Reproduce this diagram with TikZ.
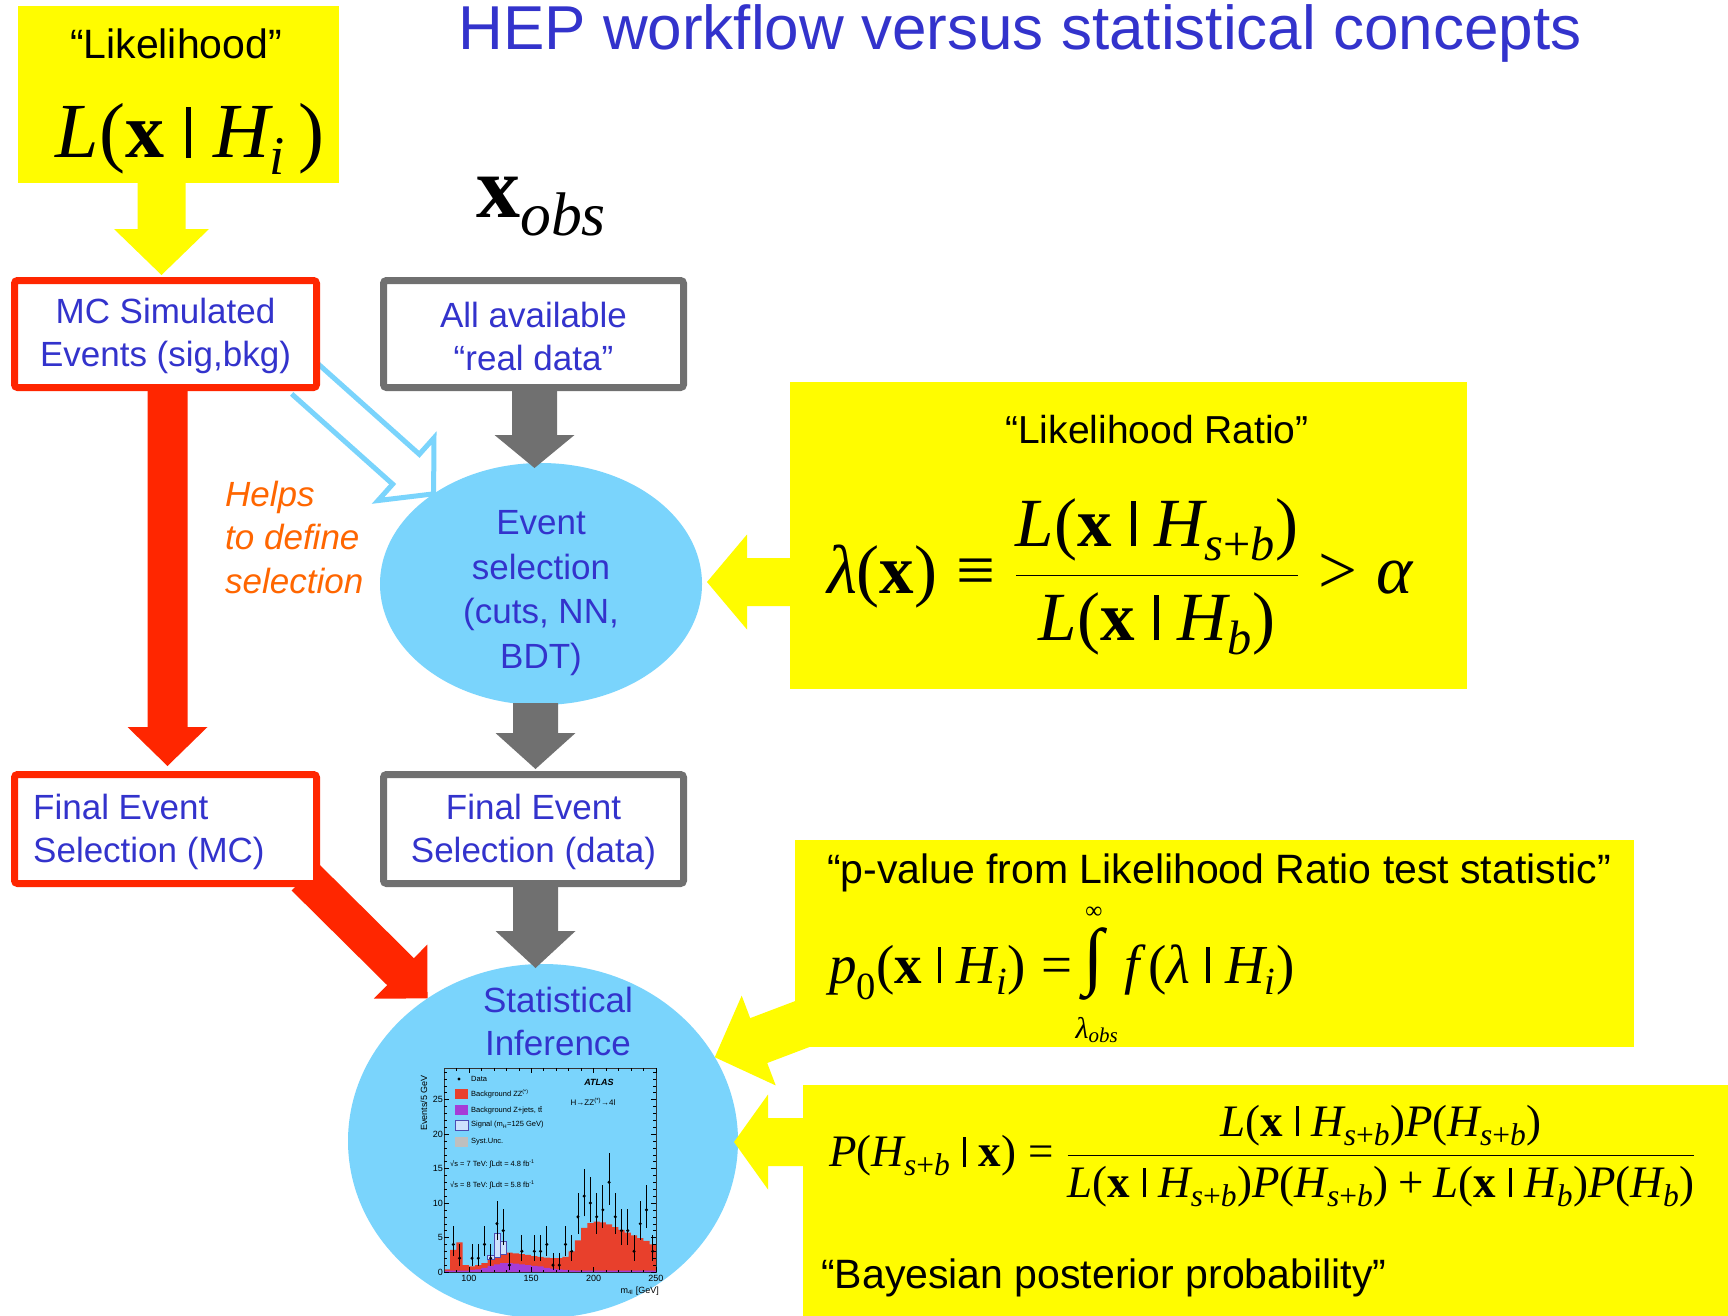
\RequirePackage{fix-cm}
\documentclass[tikz,border=0pt]{standalone}
\usepackage{amsmath}
\usepackage[no-math]{fontspec}
\newfontfamily\hv{Liberation Sans}
\newfontfamily\tms{Liberation Serif}
\usetikzlibrary{calc,shapes.geometric}
\pgfdeclarelayer{background}
\pgfsetlayers{background,main}
\definecolor{txtblue}{RGB}{51,51,204}
\definecolor{boxred}{RGB}{255,38,0}
\definecolor{boxgray}{RGB}{112,112,112}
\definecolor{hiyellow}{RGB}{255,252,0}
\definecolor{skyblue}{RGB}{122,212,252}
\definecolor{helporange}{RGB}{255,102,0}
\definecolor{histred}{RGB}{232,64,44}
\definecolor{histpurple}{RGB}{165,60,215}
\definecolor{histsig}{RGB}{205,225,252}
% Times-like letters inside formulas
\makeatletter
\newcommand\fsz{\dimexpr\f@size pt\relax}
\makeatother
\newcommand\mi[1]{\text{\tms\itshape #1}}
\newcommand\mb[1]{\text{\tms\bfseries #1}}
\newcommand\mr[1]{\text{\tms #1}}
\newcommand\sbx[1]{_{\raisebox{-0.06\fsz}{$\scriptstyle #1$}}}
\newcommand\given{\mspace{5mu}\rule{0.07\fsz}{0.66\fsz}\mspace{5mu}}
\newcommand\eqrel[1]{\mathrel{\mr{#1}}}
\newcommand\plus{\mathbin{\mr{+}}}
\newcommand\lp{\mr{(}}
\newcommand\rp{\mr{)}}
\newcommand\xb{\mb{x}}
\newcommand\Hsb{\mi{H}\sbx{\mi{s}\mr{+}\mi{b}}}
\newcommand\Hb{\mi{H}\sbx{\mi{b}}}
\newcommand\Hi{\mi{H}\sbx{\mi{i}}}
\tikzset{
  ybox/.style={fill=hiyellow, inner sep=0, outer sep=0},
  flowbox/.style={draw, line width=7pt, fill=white, rounded corners=3pt, inner sep=0},
  redbox/.style={flowbox, draw=boxred},
  graybox/.style={flowbox, draw=boxgray},
  blob/.style={ellipse, fill=skyblue, inner sep=0, outer sep=0},
  boxlabel/.style={font=\hv\fontsize{35}{43}\selectfont, text=txtblue, align=center, inner sep=0},
  quotetext/.style={font=\hv\fontsize{41}{48}\selectfont, inner sep=0},
  formula/.style={inner sep=0},
  legendtext/.style={font=\hv\fontsize{7.5}{9}\selectfont, inner sep=0, anchor=west},
  ticklabel/.style={font=\hv\fontsize{9}{10}\selectfont, inner sep=0},
}
% filled block arrow: style, start, tip, half shaft width, half head width, head length
\newcommand\flowarrow[6]{%
  \coordinate (fa-base) at ($(#3)!#6!(#2)$);
  \fill[#1] ($(#2)!#4!90:(#3)$) -- ($(fa-base)!#4!-90:(#2)$) -- ($(fa-base)!#5!-90:(#2)$) -- (#3)
    -- ($(fa-base)!#5!90:(#2)$) -- ($(fa-base)!#4!90:(#2)$) -- ($(#2)!#4!-90:(#3)$) -- cycle;}
% outlined block arrow, open at its start
\newcommand\hollowarrow[6]{%
  \coordinate (fa-base) at ($(#3)!#6!(#2)$);
  \draw[#1] ($(#2)!#4!90:(#3)$) -- ($(fa-base)!#4!-90:(#2)$) -- ($(fa-base)!#5!-90:(#2)$) -- (#3)
    -- ($(fa-base)!#5!90:(#2)$) -- ($(fa-base)!#4!90:(#2)$) -- ($(#2)!#4!-90:(#3)$);}
\begin{document}
\begin{tikzpicture}[x=1pt,y=-1pt]
\useasboundingbox (0,0) rectangle (1728,1316);
\begin{pgfonlayer}{background}
  \fill[white] (0,0) rectangle (1728,1316);
\end{pgfonlayer}

% title
\node[font=\hv\fontsize{62}{70}\selectfont, text=txtblue, anchor=base, inner sep=0] (title) at (1020,50)
  {HEP workflow versus statistical concepts};

% likelihood
\node[ybox, minimum width=321pt, minimum height=177pt] (lik) at (178.5,94.5) {};
\node[quotetext, anchor=base] (likq) at (176,59) {“Likelihood”};
\node[formula, anchor=base, font=\fontsize{78}{90}\selectfont] (likf) at (190,158)
  {$\mi{L}\lp\xb\given\Hi\,\rp$};

% observed data symbol
\node[formula, anchor=base west, font=\fontsize{88}{90}\selectfont] (xobs) at (476,217) {$\xb\sbx{\mi{obs}}$};

% workflow boxes
\node[redbox, minimum width=302pt, minimum height=107pt] (mc) at (165.5,334) {};
\node[graybox, minimum width=300pt, minimum height=107pt] (ad) at (533.5,334) {};
\node[redbox, minimum width=302pt, minimum height=109pt] (fmc) at (165.5,829) {};
\node[graybox, minimum width=300pt, minimum height=109pt] (fd) at (533.5,829) {};
\node[boxlabel] (mct) at (165.5,336) {MC Simulated\\Events (sig,bkg)};
\node[boxlabel] (adt) at (533.5,336) {All available\\“real data”};
\node[boxlabel, align=left, anchor=west] (fmct) at (33,832) {Final Event\\Selection (MC)};
\node[boxlabel] (fdt) at (533.5,832) {Final Event\\Selection (data)};

% selection and inference
\node[blob, minimum width=322pt, minimum height=242pt] (es) at (541,584) {};
\node[blob, minimum width=390pt, minimum height=354pt] (si) at (543,1141) {};
\node[boxlabel, font=\hv\fontsize{35}{44.7}\selectfont] (est) at (541,593) {Event\\selection\\(cuts, NN,\\BDT)};
\node[boxlabel] (sit) at (558,1021) {Statistical\\Inference};
\node[boxlabel, align=left, anchor=west, text=helporange, font=\hv\itshape\fontsize{35}{43.5}\selectfont] (help) at (225,537)
  {Helps\\to define\\selection};

% concept boxes
\node[ybox, minimum width=677pt, minimum height=307pt] (lr) at (1128.5,535.5) {};
\node[ybox, minimum width=839pt, minimum height=207pt] (pv) at (1214.5,943.5) {};
\node[ybox, minimum width=925pt, minimum height=231pt] (bp) at (1265.5,1200.5) {};
\node[quotetext, anchor=base, font=\hv\fontsize{39}{46}\selectfont] (lrq) at (1157,443) {“Likelihood Ratio”};
\node[formula, font=\fontsize{69}{80}\selectfont] (lrf) at (1120,577)
  {$\displaystyle \mi{λ}\lp\xb\rp\eqrel{≡}\frac{\mi{L}\lp\xb\given\Hsb\rp}{\mi{L}\lp\xb\given\Hb\rp}\eqrel{>}\mi{α}$};
\node[quotetext, anchor=base] (pvq) at (1219,883) {“p-value from Likelihood Ratio test statistic”};
\node[formula, anchor=base west, font=\fontsize{55}{60}\selectfont] (pvf) at (829,983)
  {$\mi{p}\sbx{\mr{0}}\lp\xb\given\Hi\rp\eqrel{=}$};
\node[formula, font=\tms\fontsize{74}{76}\selectfont] (pvint) at (1094,964) {∫};
\node[formula, font=\tms\fontsize{24}{26}\selectfont] (pvinf) at (1094,913) {∞};
\node[formula, font=\fontsize{30}{32}\selectfont] (pvlo) at (1097,1030) {$\mi{λ}_{\mi{obs}}$};
\node[formula, anchor=base west, font=\fontsize{55}{60}\selectfont] (pvg) at (1124,983)
  {$\mi{f}\,\lp\mi{λ}\given\Hi\rp$};
\node[formula, anchor=west, font=\fontsize{45}{52}\selectfont] (bpf) at (829,1156)
  {$\displaystyle \mi{P}\lp\Hsb\given\xb\rp\eqrel{=}\frac{\mi{L}\lp\xb\given\Hsb\rp\mi{P}\lp\Hsb\rp}{\mi{L}\lp\xb\given\Hsb\rp\mi{P}\lp\Hsb\rp\plus\mi{L}\lp\xb\given\Hb\rp\mi{P}\lp\Hb\rp}$};
\node[quotetext, anchor=base west] (bpq) at (821,1288) {“Bayesian posterior probability”};

% m4l spectrum inside the inference blob
\begin{scope}[shift={(444,1272)}, x=1.246pt, y=6.9pt]
  \fill[histred] (0,0) \foreach \a/\h in {80/0.4,85/3.2,90/4.3,95/1.0,100/0.8,105/1.0,110/1.3,115/1.8,120/2.2,125/2.6,
     130/2.8,135/2.7,140/2.6,145/2.5,150/2.3,155/2.2,160/2.1,165/2.0,170/2.0,175/2.2,180/3.0,185/4.6,190/6.4,
     195/7.1,200/7.3,205/7.2,210/6.9,215/6.5,220/6.1,225/5.7,230/5.3,235/4.9,240/4.5,245/4.0}
     { -- ({\a-80},\h) -- ({\a-75},\h) } -- (170,0) -- cycle;
  \fill[histpurple] (0,0) \foreach \a/\h in {80/0.15,85/0.2,90/0.2,95/0.2,100/0.3,105/0.4,110/0.6,115/0.9,120/1.1,
     125/1.3,130/1.3,135/1.2,140/1.1,145/1.0,150/0.9,155/0.8,160/0.6,165/0.5,170/0.4,175/0.3,180/0.25,185/0.2,
     190/0.2,195/0.2,200/0.2,205/0.2,210/0.2,215/0.2,220/0.2,225/0.2,230/0.2,235/0.2,240/0.2,245/0.2}
     { -- ({\a-80},\h) -- ({\a-75},\h) } -- (170,0) -- cycle;
  \filldraw[fill=histsig, draw=blue!40!gray, line width=0.4pt] (35,1.8) rectangle (40,2.4) (40,2.2) rectangle (45,5.6)
     (45,2.6) rectangle (50,4.5);
  \foreach \m/\n in {87.5/4,92.5/2,102.5/2,107.5/2,112.5/4,117.5/2,122.5/7,127.5/6,132.5/1,142.5/3,152.5/3,
     157.5/3,162.5/4,167.5/1,172.5/1,177.5/4,182.5/3,187.5/8,192.5/11,197.5/10,202.5/8,207.5/9,212.5/13,
     217.5/8,222.5/6,227.5/6,232.5/3,237.5/7,242.5/9,247.5/3}{
    \pgfmathsetmacro\up{\n+sqrt(\n+0.25)+0.6}
    \pgfmathsetmacro\lo{max(\n-sqrt(\n+0.25)+0.4,0)}
    \draw[line width=0.8pt] ({\m-80},\lo) -- ({\m-80},\up);
    \fill ({\m-80},\n) circle[radius=1.7pt];
  }
  \draw[line width=0.6pt, black!80] (0,0) rectangle (170,29.56);
  \foreach \v in {0,5,...,25} \draw[line width=0.5pt] (0,\v) -- ++(5pt,0) (170,\v) -- ++(-5pt,0);
  \foreach \v in {1,...,29} \draw[line width=0.4pt] (0,\v) -- ++(2.5pt,0) (170,\v) -- ++(-2.5pt,0);
  \foreach \g in {20,70,120,170} \draw[line width=0.5pt] (\g,0) -- ++(0,5pt) (\g,29.56) -- ++(0,-5pt);
  \foreach \g in {10,30,40,50,60,80,90,100,110,130,140,150,160} \draw[line width=0.4pt] (\g,0) -- ++(0,2.5pt) (\g,29.56) -- ++(0,-2.5pt);
  \foreach \v in {0,5,10,15,20,25} \node[ticklabel, anchor=east] (yl\v) at ([xshift=-1pt]0,\v) {\v};
  \foreach \g [evaluate=\g as \gx using \g-80] in {100,150,200,250}
    \node[ticklabel, anchor=north] (xl\g) at ([yshift=-3pt]\gx,0) {\g};
\end{scope}
\node[ticklabel, rotate=90] (ylab) at (424,1103) {Events/5 GeV};
\node[ticklabel, anchor=north east] (xlab) at (659,1287) {m\textsubscript{4l} [GeV]};
\fill (459,1079) circle[radius=1.7pt];
\node[legendtext] (lg1) at (471,1079) {Data};
\fill[histred] (455,1089) rectangle (468,1099);
\node[legendtext] (lg2) at (471,1094) {Background ZZ\textsuperscript{(*)}};
\fill[histpurple] (455,1105) rectangle (468,1115);
\node[legendtext] (lg3) at (471,1110) {Background Z+jets, t\={t}};
\filldraw[fill=histsig, draw=blue!40!gray, line width=0.4pt] (455,1120) rectangle (468,1130);
\node[legendtext] (lg4) at (471,1125) {Signal (m\textsubscript{H}=125 GeV)};
\fill[black!25] (455,1137) rectangle (468,1147);
\node[legendtext] (lg5) at (471,1142) {Syst.Unc.};
\node[legendtext] (lg6) at (450,1164) {√s = 7 TeV: ∫Ldt = 4.8 fb\textsuperscript{-1}};
\node[legendtext] (lg7) at (450,1185) {√s = 8 TeV: ∫Ldt = 5.8 fb\textsuperscript{-1}};
\node[font=\hv\bfseries\itshape\fontsize{9}{10}\selectfont, inner sep=0] (atl) at (599,1082) {ATLAS};
\node[font=\hv\fontsize{8}{9}\selectfont, inner sep=0] (chan) at (593,1102) {H→ZZ\textsuperscript{(*)}→4l};

% arrows hidden behind the white boxes at their start
\begin{pgfonlayer}{background}
  \coordinate (r1s) at ($(mc.south)+(2,-10)$);
  \coordinate (r1t) at ($(fmc.north)+(2,-5)$);
  \flowarrow{boxred}{r1s}{r1t}{20pt}{40pt}{39pt}
  \coordinate (r2s) at ($(fmc.south east)+(-15,-10)$);
  \coordinate (r2t) at (si.129.2);
  \flowarrow{boxred}{r2s}{r2t}{19pt}{38pt}{38pt}
  \coordinate (b1s) at ($(mc.south east)+(-15,-12)$);
  \coordinate (b1t) at (es.140);
  \hollowarrow{skyblue, line width=5pt, line join=miter}{b1s}{b1t}{20pt}{42pt}{37pt}
\end{pgfonlayer}

% data-flow arrows
\coordinate (g1s) at ($(ad.south)+(1,0)$);
\coordinate (g1t) at ($(ad.south |- es.north)+(1,5)$);
\flowarrow{boxgray}{g1s}{g1t}{22.5pt}{40pt}{33pt}
\coordinate (g2s) at ($(fd.north |- es.south)+(2,-2)$);
\coordinate (g2t) at ($(fd.north)+(2,-2)$);
\flowarrow{boxgray}{g2s}{g2t}{22.5pt}{40pt}{36pt}
\coordinate (g3s) at ($(fd.south)+(2,0)$);
\coordinate (g3t) at ($(fd.south |- si.north)+(2,4)$);
\flowarrow{boxgray}{g3s}{g3t}{22.5pt}{40pt}{37pt}

% concept arrows
\coordinate (y1s) at ($(mc.north |- lik.south)+(-4,-10)$);
\coordinate (y1t) at ($(mc.north)+(-4,-2)$);
\flowarrow{hiyellow}{y1s}{y1t}{24pt}{47.5pt}{46pt}
\coordinate (y2s) at ($(lr.west |- es.east)+(10,-2)$);
\coordinate (y2t) at ($(es.east)+(5,-2)$);
\flowarrow{hiyellow}{y2s}{y2t}{24pt}{47.5pt}{40pt}
\coordinate (y3s) at ($(pv.south west)+(10,-24)$);
\coordinate (y3t) at (si.26.8);
\flowarrow{hiyellow}{y3s}{y3t}{24pt}{48pt}{47pt}
\coordinate (y4s) at ($(bp.west |- si.east)+(10,1)$);
\coordinate (y4t) at ($(si.east)+(-4,1)$);
\flowarrow{hiyellow}{y4s}{y4t}{24pt}{47.5pt}{34pt}
\end{tikzpicture}
\end{document}
